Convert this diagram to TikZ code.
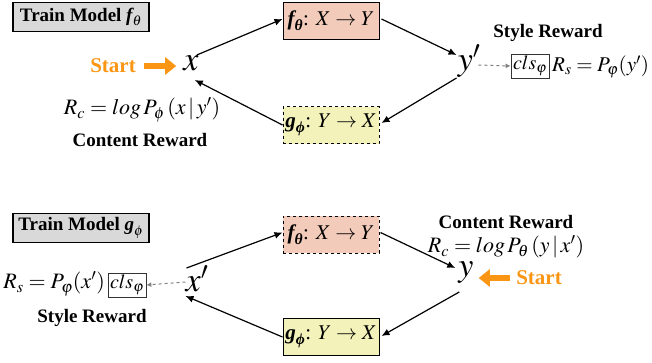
\documentclass[tikz,border=0pt]{standalone}
\usepackage{amsmath}
\usepackage{mathptmx}
\usepackage[no-math]{fontspec}
\setmainfont{Liberation Serif}
\usetikzlibrary{arrows.meta,calc}
\definecolor{startorange}{RGB}{250,150,20}
\definecolor{salmonfill}{RGB}{242,203,186}
\definecolor{yellowfill}{RGB}{242,242,186}
\definecolor{tagfill}{RGB}{217,217,217}
% bold italic model names, set in the text font
\newcommand{\bfname}[2]{\text{\bfseries\itshape #1}_{\text{\bfseries\itshape #2}}}
\newcommand{\tagname}[2]{\text{\bfseries\itshape #1}_{#2}}
\begin{document}
\begin{tikzpicture}[x=1pt,y=-1pt,
  model/.style={draw=black, line width=1pt, minimum width=96pt, minimum height=37pt,
    inner sep=2pt, font=\fontsize{21}{24}\selectfont},
  tag/.style={draw=black, line width=1.2pt, fill=tagfill, minimum width=136pt,
    minimum height=29pt, inner sep=2pt, font=\fontsize{19}{22}\selectfont\bfseries},
  var/.style={font=\fontsize{34}{38}\selectfont, inner sep=1pt},
  flow/.style={-{Latex[length=8pt,width=7pt]}, line width=1.2pt},
  startarrow/.style={-{Triangle[length=11pt,width=17pt]}, line width=6pt, startorange},
  probe/.style={-{Latex[length=5pt,width=5pt]}, dashed, gray, line width=1pt},
  caption/.style={font=\fontsize{19}{22}\selectfont\bfseries},
  startlabel/.style={font=\fontsize{21}{24}\selectfont\bfseries, text=startorange},
  formula/.style={font=\fontsize{22}{26}\selectfont, inner sep=1pt},
  clsbox/.style={draw=black!80, line width=0.8pt, inner sep=2pt, font=\fontsize{20}{23}\selectfont},
]
\useasboundingbox (0,0) rectangle (652,362);

% ---------- upper cycle: training f_theta ----------
\node[tag] (tag1) at (81,17) {Train Model\ $\tagname{f}{\theta}$};
\node[model, fill=salmonfill] (f1) at (331,21) {$\bfname{f}{θ}$: $X\rightarrow Y$};
\node[model, fill=yellowfill, dashed] (g1) at (331,125) {$\bfname{g}{ϕ}$: $Y\rightarrow X$};
\node[var] (x1) at (191,63) {$x$};
\node[var] (yp1) at (469,61) {$y'$};
\node[startlabel] (s1) at (113,66) {Start};
\draw[startarrow] ($(s1.east)+(5,0)$) -- ($(x1.west)+(-6,3)$);
\node[formula] (rc1) at (142,110) {$R_c = log\,P_\phi\,(x\,|\,y')$};
\node[caption] (cr1) at (140,140) {Content Reward};
\node[clsbox] (cls1) at (530,66) {$cls_\varphi$};
\node[formula, anchor=west, font=\fontsize{21}{25}\selectfont] (rs1) at (551,67) {$R_s = P_\varphi(y')$};
\node[caption] (sr1) at (548,33) {Style Reward};
\draw[probe] ($(yp1.east)+(-3,4)$) -- (cls1.west);

\draw[flow] ($(x1.east)+(-3,-8)$) -- ($(f1.west)+(0,-2)$);
\draw[flow] ($(f1.east)+(2,-2)$) -- ($(yp1.west)+(0,-6)$);
\draw[flow] ($(yp1.west)+(0,17)$) -- ($(g1.east)+(2,-2)$);
\draw[flow] ($(g1.west)+(0,0)$) -- ($(x1.east)+(-5,17)$);

% ---------- lower cycle: training g_phi ----------
\node[tag] (tag2) at (81,228) {Train Model\ $\tagname{g}{\phi}$};
\node[model, fill=salmonfill, dashed] (f2) at (331,234.5) {$\bfname{f}{θ}$: $X\rightarrow Y$};
\node[model, fill=yellowfill] (g2) at (331,337) {$\bfname{g}{ϕ}$: $Y\rightarrow X$};
\node[var] (xp2) at (197,279) {$x'$};
\node[var] (y2) at (466,273) {$y$};
\node[clsbox] (cls2) at (127,285) {$cls_\varphi$};
\node[formula, anchor=east] (rs2) at (106,284) {$R_s = P_\varphi(x')$};
\node[caption] (sr2) at (92,318) {Style Reward};
\draw[probe] ($(xp2.west)+(1,3)$) -- (cls2.east);
\node[caption] (cr2) at (506,222) {Content Reward};
\node[formula] (rc2) at (506,247) {$R_c = log\,P_\theta\,(y\,|\,x')$};
\node[startlabel] (s2) at (539,278) {Start};
\draw[startarrow] ($(s2.west)+(-3,0)$) -- ($(y2.east)+(4,5)$);

\draw[flow] ($(xp2.west)+(2,-11)$) -- ($(f2.west)+(0,-2)$);
\draw[flow] ($(f2.east)+(1,-2)$) -- ($(y2.west)+(-2,-5)$);
\draw[flow] ($(y2.west)+(2,19)$) -- ($(g2.east)+(2,-1)$);
\draw[flow] ($(g2.west)+(0,0)$) -- ($(xp2.west)+(1,17)$);
\end{tikzpicture}
\end{document}
